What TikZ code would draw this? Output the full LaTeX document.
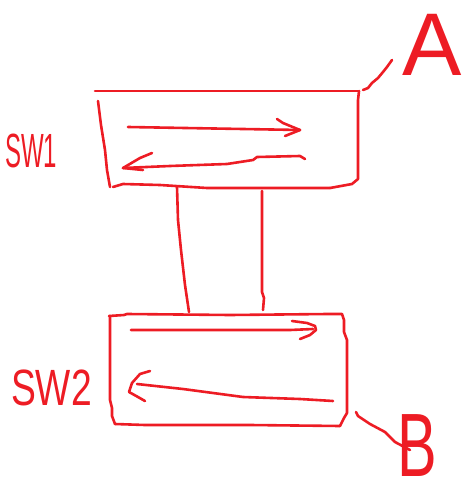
\documentclass[tikz,border=0pt]{standalone}
\usepackage{fontspec}
\setmainfont{Liberation Sans}
\definecolor{paintred}{RGB}{237,28,36}
\begin{document}
\begin{tikzpicture}[x=1pt,y=-1pt,
  pen/.style={draw=paintred,line width=2.6pt,line cap=round,line join=round},
  hand/.style={text=paintred,inner sep=0pt,transform shape}]
\useasboundingbox (0,0) rectangle (472,500);
% ---- box SW1 ----
\draw[pen] (95,91) -- (359,91);
\draw[pen] (359,91) -- (358,100) -- (358,179) -- (352,184) -- (330,188) coordinate (b1br);
\draw[pen] (98,101) -- (101,125) -- (105,150) -- (107,170) -- (110,187);
\draw[pen] (113,187) -- (123,184) -- (160,185) -- (207,188) -- (330,188);
\coordinate (b1l) at (177,187);
\coordinate (b1r) at (262,191);
% arrows SW1
\draw[pen] (128,127) -- (300,130);
\draw[pen] (277,119) -- (283,123) -- (300,130) -- (285,136);
\draw[pen] (305,159) -- (300,156) -- (257,157) -- (253,160) -- (227,164) -- (170,166) -- (123,168);
\draw[pen] (152,153) -- (140,158) -- (123,168) -- (143,170);
% ---- connectors ----
\coordinate (b2l) at (189,312);
\coordinate (b2r) at (263,310);
\draw[pen] (b1l) -- (178,220) -- (181,250) -- (185,285) -- (b2l);
\draw[pen] (b1r) -- (262,250) -- (262,292) -- (264,298) -- (b2r);
% ---- box SW2 ----
\draw[pen] (109,316) -- (124,315) -- (127,314) -- (230,315) -- (328,314) -- (342,314)
  -- (344,320) -- (344,332) -- (347,340) -- (347,413) -- (344,418) -- (340,426);
\draw[pen] (110,316) -- (110,400) -- (112,408) -- (112,416) -- (115,424);
\draw[pen] (115,424) -- (145,425) -- (250,425) -- (340,426);
% arrows SW2
\draw[pen] (131,330) -- (290,330) -- (313,329);
\draw[pen] (292,321) -- (307,323) -- (315,326) -- (316,330) -- (310,335) -- (300,339);
\draw[pen] (333,401) -- (300,399) -- (243,397) -- (183,389) -- (137,384);
\draw[pen] (150,371) -- (140,374) -- (132,383) -- (129,392) -- (138,397) -- (145,401);
% ---- leader lines ----
\draw[pen] (363,90) -- (368,88) -- (372,83) -- (378,78) -- (383,72) -- (387,67) -- (392,60);
\draw[pen] (356,412) -- (358,416) -- (370,424) -- (385,432) -- (395,442) -- (410,450);
% ---- labels ----
\node[hand,anchor=base west,font=\fontsize{48}{48}\selectfont,xscale=0.5] (sw1) at (5,167) {SW1};
\node[hand,anchor=base west,font=\fontsize{51}{51}\selectfont,xscale=0.73] (sw2) at (11,405) {SW2};
\node[hand,anchor=base west,font=\fontsize{89}{89}\selectfont] (la) at (402,76) {A};
\node[hand,anchor=base west,font=\fontsize{90}{90}\selectfont,xscale=0.66] (lb) at (397,476) {B};
\end{tikzpicture}
\end{document}
